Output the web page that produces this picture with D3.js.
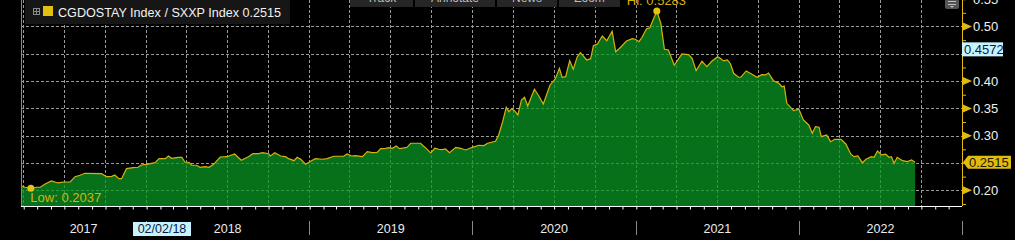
<!DOCTYPE html>
<html><head><meta charset="utf-8">
<script src="https://cdn.jsdelivr.net/npm/d3@7"></script>
<style>
html,body{margin:0;padding:0;background:#000;overflow:hidden}
svg{display:block;font-family:"Liberation Sans",Arial,sans-serif}
</style></head>
<body><svg id="c" width="1015" height="240"></svg>
<script>
const dates = ["2017-03-27","2017-04-05","2017-04-18","2017-05-01","2017-05-09","2017-05-20","2017-06-03","2017-06-18","2017-06-30","2017-07-15",
"2017-07-26","2017-08-06","2017-08-17","2017-09-23","2017-10-05","2017-10-16","2017-10-23","2017-11-01","2017-11-07","2017-11-18",
"2017-12-03","2017-12-14","2017-12-21","2018-01-02","2018-01-21","2018-01-30","2018-02-13","2018-02-20","2018-02-27","2018-03-14",
"2018-03-22","2018-03-29","2018-04-07","2018-04-13","2018-04-24","2018-05-02","2018-05-13","2018-05-22","2018-06-01","2018-06-16",
"2018-07-01","2018-07-18","2018-08-02","2018-08-18","2018-08-28","2018-09-10","2018-09-19","2018-10-02","2018-10-06","2018-10-16",
"2018-10-29","2018-11-09","2018-11-16","2018-11-28","2018-12-05","2018-12-13","2018-12-24","2019-01-04","2019-01-15","2019-01-30",
"2019-02-10","2019-02-25","2019-03-19","2019-03-27","2019-04-06","2019-04-15","2019-04-30","2019-05-11","2019-05-22","2019-06-02",
"2019-06-10","2019-06-21","2019-06-28","2019-07-06","2019-07-15","2019-07-22","2019-08-01","2019-08-08","2019-08-16","2019-09-07",
"2019-09-18","2019-09-30","2019-10-09","2019-10-18","2019-10-26","2019-11-02","2019-11-11","2019-11-25","2019-12-06","2019-12-17",
"2020-01-01","2020-01-16","2020-01-27","2020-02-04","2020-02-22","2020-02-29","2020-03-09","2020-03-17","2020-03-23","2020-03-29",
"2020-04-05","2020-04-12","2020-04-20","2020-04-27","2020-05-04","2020-05-19","2020-05-29","2020-06-08","2020-06-23","2020-07-05",
"2020-07-14","2020-07-20","2020-07-28","2020-08-06","2020-08-14","2020-08-23","2020-08-30","2020-09-13","2020-09-22","2020-09-28",
"2020-10-07","2020-10-18","2020-10-28","2020-11-09","2020-11-17","2020-11-28","2020-12-11","2020-12-24","2020-12-31","2021-01-08",
"2021-01-15","2021-01-25","2021-02-01","2021-02-17","2021-02-26","2021-03-06","2021-03-15","2021-03-28","2021-04-14","2021-04-29",
"2021-05-07","2021-05-16","2021-05-29","2021-06-09","2021-06-20","2021-07-03","2021-07-09","2021-07-16","2021-07-25","2021-08-01",
"2021-08-08","2021-08-19","2021-08-24","2021-09-05","2021-09-18","2021-09-29","2021-10-10","2021-10-18","2021-10-25","2021-11-05",
"2021-11-17","2021-11-24","2021-11-29","2021-12-05","2021-12-20","2022-01-01","2022-01-11","2022-01-23","2022-01-31","2022-02-07",
"2022-02-15","2022-02-20","2022-03-04","2022-03-13","2022-03-22","2022-04-05","2022-04-16","2022-04-27","2022-05-04","2022-05-13",
"2022-05-23","2022-05-31","2022-06-12","2022-06-18","2022-06-26","2022-07-05","2022-07-14","2022-07-22","2022-07-27","2022-08-02",
"2022-08-09","2022-08-21","2022-09-01","2022-09-10","2022-09-18"];
const values = [0.2079,0.2055,0.2037,0.2055,0.2055,0.2115,0.2170,0.2134,0.2152,0.2152,
0.2249,0.2275,0.2311,0.2304,0.2249,0.2256,0.2280,0.2212,0.2212,0.2396,
0.2414,0.2421,0.2463,0.2476,0.2505,0.2579,0.2579,0.2628,0.2586,0.2604,
0.2604,0.2513,0.2513,0.2458,0.2458,0.2421,0.2432,0.2421,0.2476,0.2610,
0.2615,0.2665,0.2549,0.2615,0.2670,0.2670,0.2689,0.2670,0.2628,0.2689,
0.2628,0.2615,0.2579,0.2542,0.2604,0.2568,0.2476,0.2531,0.2579,0.2568,
0.2579,0.2623,0.2623,0.2665,0.2628,0.2636,0.2615,0.2707,0.2689,0.2695,
0.2762,0.2769,0.2780,0.2769,0.2811,0.2762,0.2775,0.2787,0.2861,0.2861,
0.2780,0.2683,0.2769,0.2751,0.2745,0.2756,0.2689,0.2787,0.2769,0.2738,
0.2787,0.2824,0.2818,0.2861,0.2897,0.3013,0.3256,0.3520,0.3440,0.3494,
0.3452,0.3379,0.3654,0.3703,0.3544,0.3850,0.3727,0.3580,0.3929,0.4044,
0.4234,0.4070,0.4081,0.4374,0.4216,0.4447,0.4520,0.4387,0.4410,0.4648,
0.4679,0.4826,0.4740,0.4912,0.4538,0.4619,0.4734,0.4776,0.4766,0.4722,
0.4802,0.4960,0.4973,0.5283,0.5057,0.4583,0.4570,0.4289,0.4496,0.4484,
0.4417,0.4191,0.4363,0.4264,0.4363,0.4447,0.4417,0.4370,0.4387,0.4313,
0.4143,0.4070,0.4070,0.4185,0.4125,0.4070,0.4118,0.4112,0.4148,0.4007,
0.3960,0.3897,0.3910,0.3593,0.3458,0.3484,0.3288,0.3196,0.3044,0.3165,
0.3155,0.2982,0.3013,0.2890,0.2934,0.2934,0.2848,0.2665,0.2615,0.2628,
0.2505,0.2568,0.2615,0.2604,0.2720,0.2647,0.2660,0.2604,0.2615,0.2494,
0.2604,0.2542,0.2524,0.2555,0.2515];
const yTicks = [0.20,0.25,0.30,0.35,0.40,0.45,0.50,0.55];
const yLabelTicks = [0.20,0.30,0.35,0.40,0.50,0.55];
const yMinorTicks = [0.175,0.20,0.225,0.25,0.275,0.30,0.325,0.35,0.375,0.40,0.425,0.45,0.475,0.50,0.525,0.55];
const yearLabels = ["2017","2018","2019","2020","2021","2022"];
const legendText = "CGDOSTAY Index / SXXP Index 0.2515";
const lastValue = 0.2515;
const crossValue = 0.4572;
const crossDate = "02/02/18";
const toolbar = ["Track","Annotate","News","Zoom"];

const parse = d3.timeParse("%Y-%m-%d");
const data = dates.map((d,i)=>({date:parse(d), v:values[i]}));

const L=21, R=962, T=0, B=206;
const x = d3.scaleTime().domain([parse("2017-03-27"), parse("2023-01-01")]).range([L,R]);
const y = d3.scaleLinear().domain([0.1712,0.5485]).range([B,T]);

const svg = d3.select("#c");
svg.append("rect").attr("width",1015).attr("height",240).attr("fill","#000");

const quarters = d3.timeMonth.every(3).range(x.domain()[0], x.domain()[1]).filter(d=>x(d)>L+2 && x(d)<R-2);
const hTicks = yTicks.filter(v=>y(v)>1 && y(v)<B-1);

function grid(g, color){
  g.selectAll("line.h").data(hTicks).join("line").attr("class","h")
    .attr("x1",L).attr("x2",R).attr("y1",d=>Math.round(y(d))+0.5).attr("y2",d=>Math.round(y(d))+0.5)
    .attr("stroke",color).attr("stroke-dasharray","3,2");
  g.selectAll("line.v").data(quarters).join("line").attr("class","v")
    .attr("x1",d=>Math.round(x(d))+0.5).attr("x2",d=>Math.round(x(d))+0.5).attr("y1",0).attr("y2",B)
    .attr("stroke",color).attr("stroke-dasharray","3,2");
}
grid(svg.append("g"), "#9a9a9a");

const area = d3.area().x(d=>x(d.date)).y0(B).y1(d=>y(d.v));
const line = d3.line().x(d=>x(d.date)).y(d=>y(d.v));
svg.append("path").datum(data).attr("d",area).attr("fill","#06711a");
svg.append("defs").append("clipPath").attr("id","areaclip").append("path").datum(data).attr("d",area);
grid(svg.append("g").attr("clip-path","url(#areaclip)"), "#2e9a3a");
svg.append("path").datum(data).attr("d",line).attr("fill","none").attr("stroke","#d9b10c").attr("stroke-width",1.2);

// left axis line
svg.append("line").attr("x1",L+0.5).attr("x2",L+0.5).attr("y1",0).attr("y2",B).attr("stroke","#8a8a8a");

// bottom axis
const months = d3.timeMonth.range(x.domain()[0], x.domain()[1]).filter(d=>x(d)>=L && x(d)<=R);
const bx = svg.append("g").attr("transform",`translate(0,${B})`)
  .call(d3.axisBottom(x).tickValues(months).tickSize(3).tickFormat(""));
bx.select(".domain").attr("stroke","#fff").attr("d",`M${L},0.5H${R}`);
bx.selectAll(".tick line").attr("stroke","#fff").attr("transform","translate(0.5,0.5)");
const years = d3.timeYear.range(x.domain()[0], d3.timeDay.offset(x.domain()[1],1));
svg.selectAll("line.ysep").data(years).join("line").attr("class","ysep")
  .attr("x1",d=>Math.round(x(d))+0.5).attr("x2",d=>Math.round(x(d))+0.5).attr("y1",221).attr("y2",235)
  .attr("stroke","#8a8a8a");
svg.selectAll("text.ylab").data(yearLabels).join("text").attr("class","ylab")
  .attr("x",d=>{const s=Math.max(L,x(new Date(+d,0,1))), e=Math.min(R,x(new Date(+d+1,0,1))); return (s+e)/2;})
  .attr("y",233).attr("text-anchor","middle").attr("fill","#ececec").attr("font-size",12.5).text(d=>d);

// cross date label
const cd = svg.append("g");
cd.append("rect").attr("x",133).attr("y",222).attr("width",58).attr("height",14).attr("fill","#c6f3ff");
cd.append("text").attr("x",162).attr("y",233).attr("text-anchor","middle").attr("fill","#0a1a3a").attr("font-size",12.5).text(crossDate);

// right axis
const ra = svg.append("g").attr("transform",`translate(${R},0)`)
  .call(d3.axisRight(y).tickValues(yMinorTicks).tickSize(4).tickFormat(""));
ra.select(".domain").attr("stroke","#e2b90f").attr("d",`M0.5,0V${B}`);
ra.selectAll(".tick line").attr("stroke","#e2b90f");
svg.selectAll("path.tri").data(yLabelTicks.filter(v=>v!==0.55)).join("path").attr("class","tri")
  .attr("d",d=>`M${R+1},${y(d)-4}L${R+10},${y(d)}L${R+1},${y(d)+4}Z`).attr("fill","#e2b90f");
svg.selectAll("text.rl").data(yLabelTicks).join("text").attr("class","rl")
  .attr("x",R+11).attr("y",d=>y(d)+4.5).attr("fill","#f0f0f0").attr("font-size",13).text(d=>d3.format(".2f")(d));

// crosshair value label
svg.append("rect").attr("x",R).attr("y",y(crossValue)-7.5).attr("width",41).attr("height",14).attr("fill","#c6f3ff");
svg.append("text").attr("x",R+2).attr("y",y(crossValue)+4.5).attr("fill","#0a1a3a").attr("font-size",13).text(d3.format(".4f")(crossValue));

// last value label
const ly = y(lastValue);
svg.append("path").attr("d",`M${R+1},${ly}L${R+6},${ly-6.5}H${R+49}V${ly+6.5}H${R+6}Z`).attr("fill","#e2bb10");
svg.append("text").attr("x",R+7).attr("y",ly+4.5).attr("fill","#1a1a00").attr("font-size",13).text(d3.format(".4f")(lastValue));

// hi / low
const hi = data.reduce((a,b)=>b.v>a.v?b:a), lo = data.reduce((a,b)=>b.v<a.v?b:a);
svg.append("circle").attr("cx",x(hi.date)).attr("cy",y(hi.v)).attr("r",3.5).attr("fill","#e8c20e");
svg.append("circle").attr("cx",x(lo.date)).attr("cy",y(lo.v)).attr("r",3.5).attr("fill","#e8c20e");
svg.append("text").attr("x",x(hi.date)-30).attr("y",5).attr("fill","#d8b30c").attr("font-size",13).text("Hi: "+d3.format(".4f")(hi.v));
svg.append("text").attr("x",x(lo.date)-0.5).attr("y",201.5).attr("fill","#d8b30c").attr("font-size",13).text("Low: "+d3.format(".4f")(lo.v));

// legend
const lg = svg.append("g");
lg.append("rect").attr("x",25).attr("y",0).attr("width",265).attr("height",24).attr("fill","#161616");
lg.append("rect").attr("x",33.5).attr("y",8.5).attr("width",6).attr("height",6).attr("fill","none").attr("stroke","#888");
lg.append("line").attr("x1",34).attr("x2",39).attr("y1",11.5).attr("y2",11.5).attr("stroke","#888");
lg.append("line").attr("x1",36.5).attr("x2",36.5).attr("y1",9).attr("y2",14).attr("stroke","#888");
lg.append("rect").attr("x",43).attr("y",6).attr("width",10).attr("height",10).attr("fill","#e2c010");
lg.append("text").attr("x",58).attr("y",16.5).attr("fill","#f2f2f2").attr("font-size",12.6).text(legendText);

// toolbar (cut off at top)
const tbx=[350,415,497,559], tbw=[63,80,60,61];
toolbar.forEach((t,i)=>{
  svg.append("rect").attr("x",tbx[i]).attr("y",-4).attr("width",tbw[i]).attr("height",11).attr("fill","#262626");
  svg.append("text").attr("x",tbx[i]+tbw[i]/2).attr("y",1.5).attr("text-anchor","middle").attr("fill","#bdbdbd").attr("font-size",12).text(t);
});
// top-right icon
svg.append("rect").attr("x",945).attr("y",-3).attr("width",14).attr("height",12).attr("rx",2).attr("fill","#555");
[1,4].forEach(o=>svg.append("line").attr("x1",948).attr("x2",956).attr("y1",o+0.5).attr("y2",o+0.5).attr("stroke","#bbb"));
svg.append("path").attr("d","M950,6L954,6L952,8Z").attr("fill","#bbb");
</script></body></html>
